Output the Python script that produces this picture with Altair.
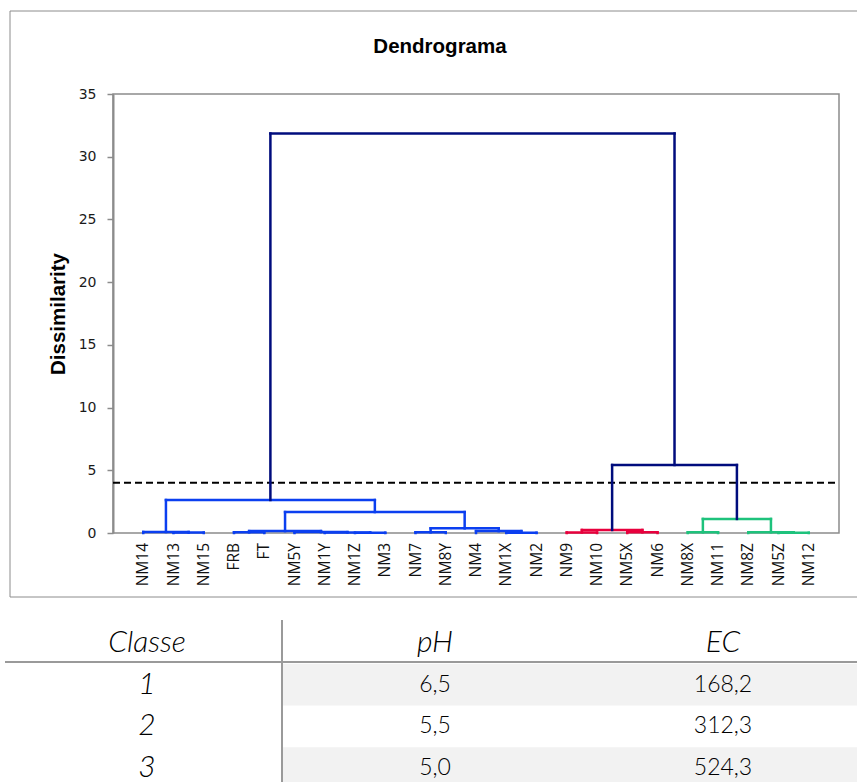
import altair as alt
import pandas as pd

# ---------------- data ----------------
leaves = ["NM14", "NM13", "NM15", "FRB", "FT", "NM5Y", "NM1Y", "NM1Z", "NM3",
          "NM7", "NM8Y", "NM4", "NM1X", "NM2", "NM9", "NM10", "NM5X", "NM6",
          "NM8X", "NM11", "NM8Z", "NM5Z", "NM12"]
leaf_class = [1] * 14 + [2] * 4 + [3] * 5

# agglomeration steps: merge k joins merge_a[k] and merge_b[k] at merge_h[k]
merge_a = ["NM13", "NM14", "FRB", "NM1Z", "NM1Y", "NM5Y", "m3", "NM7", "NM1X", "NM4",
           "m8", "m7", "m2", "NM9", "NM5X", "m14", "NM8X", "NM5Z", "NM8Z", "m17", "m16", "m13"]
merge_b = ["NM15", "m1", "FT", "NM3", "m4", "m5", "m6", "NM8Y", "NM2", "m9",
           "m10", "m11", "m12", "NM10", "NM6", "m15", "NM11", "NM12", "m18", "m19", "m20", "m21"]
merge_h = [0.03, 0.08, 0.05, 0.02, 0.04, 0.07, 0.15, 0.05, 0.02, 0.15,
           0.37, 1.67, 2.63, 0.04, 0.05, 0.24, 0.05, 0.02, 0.06, 1.12, 5.42, 31.85]
cut_level = [4.0]

table_cols = ["Classe", "pH", "EC"]
classes = ["1", "2", "3"]
ph_values = ["6,5", "5,5", "5,0"]
ec_values = ["168,2", "312,3", "524,3"]

# ---------------- build dendrogram segments ----------------
pos = {n: i + 1 for i, n in enumerate(leaves)}
hgt = {n: 0.0 for n in leaves}
cls = dict(zip(leaves, leaf_class))
segs = []
for k, (a, b, h) in enumerate(zip(merge_a, merge_b, merge_h), start=1):
    grp = "top" if h > cut_level[0] else str(cls[a])
    segs.append(dict(x=pos[a], x2=pos[a], y=hgt[a], y2=h, grp=grp))
    segs.append(dict(x=pos[b], x2=pos[b], y=hgt[b], y2=h, grp=grp))
    segs.append(dict(x=pos[a], x2=pos[b], y=h, y2=h, grp=grp))
    node = f"m{k}"
    pos[node] = (pos[a] + pos[b]) / 2
    hgt[node] = h
    cls[node] = cls[a]
seg_df = pd.DataFrame(segs)
leaf_df = pd.DataFrame({"name": leaves, "x": [pos[n] for n in leaves]})
cut_df = pd.DataFrame({"y": cut_level})
one = pd.DataFrame({"t": ["Dendrograma"]})

W, H = 726, 439
xs = alt.Scale(domain=[0, 24], nice=False, zero=False)
ys = alt.Scale(domain=[0, 35], nice=False)

GRAY = "#8c8c8c"

frame = alt.Chart(one).mark_rect(fillOpacity=0, stroke=GRAY, strokeWidth=1).encode(
    x=alt.value(-103), x2=alt.value(790), y=alt.value(-83), y2=alt.value(503)
)

title = alt.Chart(one).mark_text(
    font="Liberation Sans", fontWeight="bold", fontSize=20.5, color="black",
    align="center", baseline="middle"
).encode(x=alt.value(327), y=alt.value(-47), text="t:N")

y_axis = alt.Axis(
    values=[0, 5, 10, 15, 20, 25, 30, 35], title="Dissimilarity",
    titleFont="Liberation Sans", titleFontWeight="bold", titleFontSize=20.5,
    titleColor="black", titleAngle=270, titleX=-55, titleY=H / 2,
    titleAlign="center", titleBaseline="middle",
    labelFont="DejaVu Sans", labelFontSize=14, labelColor="#1a1a1a", labelPadding=11,
    tickSize=6, tickColor=GRAY, tickWidth=1.5, domainColor=GRAY, domainWidth=2,
    grid=False,
)

cut = alt.Chart(cut_df).mark_rule(
    color="black", strokeWidth=2, strokeDash=[7, 4]
).encode(y=alt.Y("y:Q", scale=ys, axis=y_axis), x=alt.value(0), x2=alt.value(W))

seg = alt.Chart(seg_df).mark_rule(strokeWidth=2.5, strokeCap="square").encode(
    x=alt.X("x:Q", scale=xs, axis=None),
    x2="x2:Q",
    y=alt.Y("y:Q", scale=ys, axis=y_axis),
    y2="y2:Q",
    color=alt.Color("grp:N", legend=None, scale=alt.Scale(
        domain=["1", "2", "3", "top"],
        range=["#0b3ff0", "#e8003d", "#1ec27c", "#000c7d"])),
)

labels = alt.Chart(leaf_df).mark_text(
    angle=270, align="right", baseline="middle", font="Open Sans", fontSize=15.5, color="#111111"
).encode(x=alt.X("x:Q", scale=xs, axis=None), y=alt.value(449), text="name:N")

dendro = alt.layer(frame, cut, seg, labels, title)

# ---------------- table ----------------
hdr_df = pd.DataFrame({"col": table_cols, "row": ["h"] * 3, "text": table_cols})
cls_df = pd.DataFrame({"col": ["Classe"] * 3, "row": classes, "text": classes})
val_df = pd.DataFrame({"col": ["pH"] * 3 + ["EC"] * 3, "row": classes * 2,
                       "text": ph_values + ec_values})
shade_df = pd.DataFrame({"row": classes[0::2]})

ty = alt.Scale(type="band", domain=["h"] + classes, range=[528, 695], paddingInner=0, paddingOuter=0)
tx = alt.Scale(type="point", domain=table_cols, range=[34, 610], padding=0)

shade = alt.Chart(shade_df).mark_rect(color="#f2f2f2").encode(
    y=alt.Y("row:N", scale=ty, axis=None), x=alt.value(170), x2=alt.value(790)
)
hline = alt.Chart(one).mark_rule(color="#9a9a9a", strokeWidth=2).encode(
    y=alt.value(568), x=alt.value(-108), x2=alt.value(790)
)
vline = alt.Chart(one).mark_rule(color="#9a9a9a", strokeWidth=2).encode(
    x=alt.value(169), y=alt.value(526), y2=alt.value(720)
)
hdr_text = alt.Chart(hdr_df).mark_text(
    font="Lato", fontStyle="italic", fontWeight=300, fontSize=30, color="#000000"
).encode(x=alt.X("col:N", scale=tx, axis=None), y=alt.Y("row:N", scale=ty, axis=None), text="text:N")
cls_text = alt.Chart(cls_df).mark_text(
    font="Lato", fontStyle="italic", fontWeight=300, fontSize=30, color="#000000"
).encode(x=alt.X("col:N", scale=tx, axis=None), y=alt.Y("row:N", scale=ty, axis=None), text="text:N")
val_text = alt.Chart(val_df).mark_text(
    font="Lato", fontWeight=300, fontSize=23, color="#000000"
).encode(x=alt.X("col:N", scale=tx, axis=None), y=alt.Y("row:N", scale=ty, axis=None), text="text:N")

table = alt.layer(shade, hline, vline, hdr_text, cls_text, val_text)

chart = alt.layer(dendro, table).resolve_scale(x="independent", y="independent").properties(
    width=W, height=H,
    padding={"left": 113, "top": 94, "right": 18, "bottom": 249},
    autosize=alt.AutoSizeParams(type="none"),
).configure(background="white").configure_view(
    stroke=GRAY, strokeWidth=1.5
).configure_axis(
    labelFont="DejaVu Sans", labelFontSize=14, labelColor="#1a1a1a"
)

chart.save("out.html", embed_options={"renderer": "svg", "actions": False})
